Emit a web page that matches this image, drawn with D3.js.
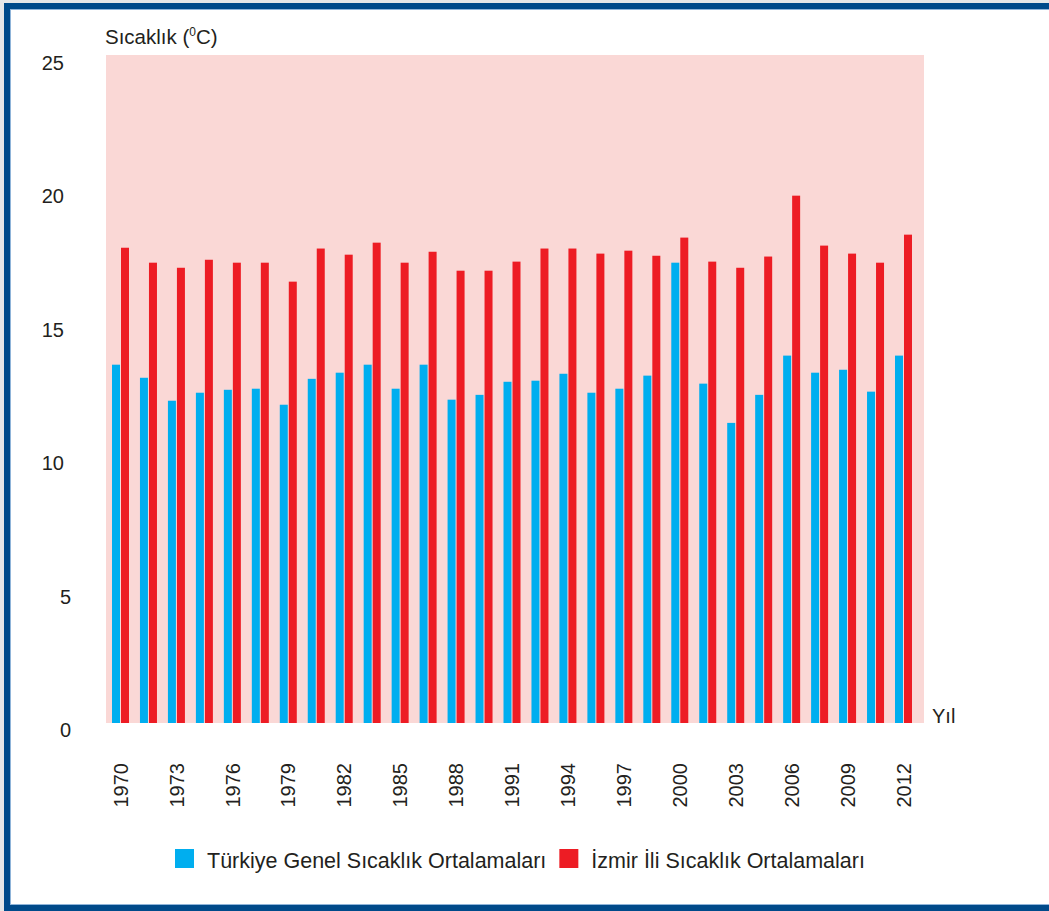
<!DOCTYPE html>
<html>
<head>
<meta charset="utf-8">
<script src="https://cdn.jsdelivr.net/npm/d3@7"></script>
<style>
  body { margin: 0; background: #fff; }
  text { font-family: "Liberation Sans", Arial, Helvetica, sans-serif; fill: #231f20; }
</style>
</head>
<body>
<div id="chart"></div>
<script>
// tick labels under each pair of bars (every second pair is unlabeled)
var yearLabels = ["1970", "", "1973", "", "1976", "", "1979", "", "1982", "", "1985", "", "1988", "", "1991", "",
  "1994", "", "1997", "", "2000", "", "2003", "", "2006", "", "2009", "", "2012"];
var turkiye = [13.42, 12.93, 12.07, 12.37, 12.48, 12.52, 11.92, 12.89, 13.12, 13.42, 12.52, 13.42, 12.11, 12.29, 12.78,
  12.82, 13.08, 12.37, 12.52, 13.01, 17.24, 12.71, 11.24, 12.29, 13.76, 13.12, 13.23, 12.41, 13.76];
var izmir = [17.80, 17.24, 17.05, 17.35, 17.24, 17.24, 16.53, 17.77, 17.54, 17.99, 17.24, 17.65, 16.94, 16.94, 17.28,
  17.77, 17.77, 17.58, 17.69, 17.50, 18.18, 17.28, 17.05, 17.47, 19.75, 17.88, 17.58, 17.24, 18.29];
var seriesNames = ["Türkiye Genel Sıcaklık Ortalamaları", "İzmir İli Sıcaklık Ortalamaları"];
var seriesColors = ["#00aeef", "#ed1c24"];
var yTicks = [0, 5, 10, 15, 20, 25];

var width = 1049, height = 911;
var plot = {left: 106, right: 924, top: 55, bottom: 723};

var svg = d3.select('#chart')
    .append('svg')
    .attr('width', width)
    .attr('height', height);

// frame
svg.append('rect').attr('width', width).attr('height', height).attr('fill', '#e6e7e8');
svg.append('rect').attr('x', 4).attr('y', 3).attr('width', width).attr('height', height).attr('fill', '#004a8a');
svg.append('rect').attr('x', 10).attr('y', 9).attr('width', width).attr('height', 896).attr('fill', '#8fb4d9');
svg.append('rect').attr('x', 11).attr('y', 10).attr('width', width).attr('height', 894).attr('fill', '#fff');

svg.append('rect')
    .attr('x', plot.left)
    .attr('y', plot.top)
    .attr('width', plot.right - plot.left)
    .attr('height', plot.bottom - plot.top)
    .attr('fill', '#fad8d6');

var idx = d3.range(yearLabels.length);
var x0 = d3.scaleBand()
    .domain(idx)
    .range([plot.left, 918])
    .paddingInner(0.392)
    .paddingOuter(0.2146);
var x1 = d3.scaleBand()
    .domain([0, 1])
    .range([0, x0.bandwidth()])
    .paddingInner(1 / 9);
var y = d3.scaleLinear()
    .domain([0, 25])
    .range([plot.bottom, plot.top + 0.5]);

var rows = idx.map(function(i) { return [turkiye[i], izmir[i]]; });

var groups = svg.append('g').selectAll('g')
    .data(rows)
    .enter().append('g')
    .attr('transform', function(d, i) { return 'translate(' + x0(i) + ',0)'; });
groups.selectAll('rect')
    .data(function(d) { return d; })
    .enter().append('rect')
    .attr('x', function(d, j) { return x1(j); })
    .attr('y', function(d) { return y(d); })
    .attr('width', x1.bandwidth())
    .attr('height', function(d) { return y(0) - y(d); })
    .attr('fill', function(d, j) { return seriesColors[j]; });

// y axis
var yAxis = svg.append('g')
    .attr('transform', 'translate(80,0)')
    .call(d3.axisLeft(y).tickValues(yTicks).tickSize(0).tickPadding(9));
yAxis.select('.domain').remove();
yAxis.selectAll('text')
    .attr('x', function(d) { return d >= 10 ? -16 : -9; })
    .attr('y', 7.5)
    .style('font-size', '20px')
    .style('font-family', '"Liberation Sans", Arial, Helvetica, sans-serif')
    .attr('fill', '#231f20');

// x axis
var xAxis = svg.append('g')
    .attr('transform', 'translate(0,' + plot.bottom + ')')
    .call(d3.axisBottom(x0).tickSize(0).tickFormat(function(i) { return yearLabels[i]; }));
xAxis.select('.domain').remove();
xAxis.selectAll('text')
    .attr('transform', 'translate(0,40) rotate(-90)')
    .attr('x', 0)
    .attr('y', 0)
    .attr('dy', '0.36em')
    .attr('text-anchor', 'end')
    .style('font-size', '20px')
    .style('font-family', '"Liberation Sans", Arial, Helvetica, sans-serif')
    .attr('fill', '#231f20');

// axis titles
var title = svg.append('text')
    .attr('x', 105)
    .attr('y', 44)
    .style('font-size', '20.5px');
title.append('tspan').text('Sıcaklık (');
title.append('tspan').text('0').attr('dy', -8).style('font-size', '12px');
title.append('tspan').text('C)').attr('dy', 8);

svg.append('text')
    .attr('x', 932)
    .attr('y', 723)
    .style('font-size', '20px')
    .text('Yıl');

// legend
var legend = svg.append('g').attr('transform', 'translate(175,849)');
var lx = 0;
seriesNames.forEach(function(name, j) {
  legend.append('rect')
      .attr('x', lx)
      .attr('y', 0)
      .attr('width', 19)
      .attr('height', 19)
      .attr('fill', seriesColors[j]);
  var t = legend.append('text')
      .attr('x', lx + 32)
      .attr('y', 19)
      .style('font-size', '21.5px')
      .text(name);
  lx += 32 + t.node().getComputedTextLength() + 13;
});
</script>
</body>
</html>
